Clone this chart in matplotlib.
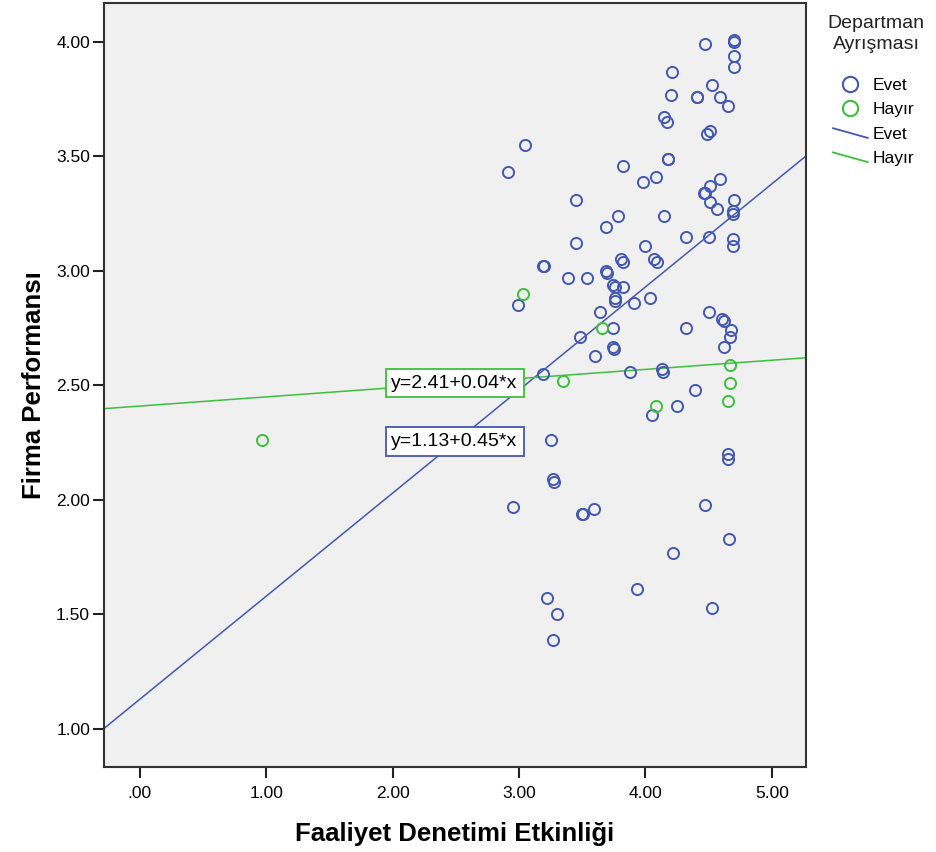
import matplotlib
matplotlib.use("Agg")
import matplotlib.pyplot as plt
from matplotlib.lines import Line2D
from matplotlib.legend_handler import HandlerBase
import numpy as np

plt.rcParams['font.family'] = ['Liberation Sans', 'DejaVu Sans']

# Departman Ayrışması = Evet
evet_x = [2.91, 3.05, 4.47, 4.70, 4.70, 4.70, 4.70, 4.21, 4.53, 4.59, 4.65, 4.41, 4.41,
          4.20, 4.15, 4.17, 4.51, 4.49, 3.82, 4.18, 4.18, 3.98, 4.08, 4.51, 4.59, 4.46,
          4.47, 4.51, 4.57, 4.70, 4.69, 4.69, 3.45, 4.15, 3.78, 3.69, 4.32, 4.50, 4.69,
          4.69, 4.00, 3.45, 4.07, 4.09, 3.81, 3.82, 3.19, 3.20, 3.69, 3.70, 3.54, 3.39,
          3.74, 3.76, 3.82, 3.76, 3.76, 3.91, 4.04, 2.99, 3.64, 4.50, 4.61, 4.62, 4.68,
          3.74, 4.32, 3.48, 4.67, 3.74, 3.75, 4.62, 3.60, 3.19, 3.88, 4.13, 4.14, 4.39,
          4.25, 4.05, 3.25, 4.65, 4.65, 3.27, 3.28, 2.95, 3.51, 3.50, 3.59, 4.47, 4.66,
          4.22, 3.93, 3.22, 3.30, 4.53, 3.27]
evet_y = [3.43, 3.55, 3.99, 4.00, 4.01, 3.94, 3.89, 3.87, 3.81, 3.76, 3.72, 3.76, 3.76,
          3.77, 3.67, 3.65, 3.61, 3.60, 3.46, 3.49, 3.49, 3.39, 3.41, 3.37, 3.40, 3.34,
          3.34, 3.30, 3.27, 3.31, 3.26, 3.25, 3.31, 3.24, 3.24, 3.19, 3.15, 3.15, 3.14,
          3.11, 3.11, 3.12, 3.05, 3.04, 3.05, 3.04, 3.02, 3.02, 3.00, 2.99, 2.97, 2.97,
          2.94, 2.93, 2.93, 2.88, 2.87, 2.86, 2.88, 2.85, 2.82, 2.82, 2.79, 2.78, 2.74,
          2.75, 2.75, 2.71, 2.71, 2.67, 2.66, 2.67, 2.63, 2.55, 2.56, 2.57, 2.56, 2.48,
          2.41, 2.37, 2.26, 2.20, 2.18, 2.09, 2.08, 1.97, 1.94, 1.94, 1.96, 1.98, 1.83,
          1.77, 1.61, 1.57, 1.50, 1.53, 1.39]

# Departman Ayrışması = Hayır
hayir_x = [0.97, 3.03, 3.66, 3.35, 4.08, 4.67, 4.67, 4.65]
hayir_y = [2.26, 2.90, 2.75, 2.52, 2.41, 2.59, 2.51, 2.43]

# fit lines: intercept, slope
evet_fit = (1.13, 0.45)
hayir_fit = (2.41, 0.04)

blue = '#4358b0'
green = '#3dbf3d'


class DiagHandler(HandlerBase):
    # SPSS draws the fit line legend keys as short slanted strokes
    def create_artists(self, legend, orig_handle, xdescent, ydescent, width, height, fontsize, trans):
        x0, x1 = -xdescent, -xdescent + width
        y0, y1 = -ydescent + height * 0.85, -ydescent + height * 0.05
        ln = Line2D([x0, x1], [y0, y1], color=orig_handle.get_color(), lw=orig_handle.get_linewidth())
        ln.set_transform(trans)
        return [ln]


fig = plt.figure(figsize=(9.36, 8.52), dpi=100)
ax = fig.add_axes([0.111, 0.0998, 0.750, 0.8967])
ax.set_facecolor('#f0f0f0')

xlim = (-0.285, 5.27)
ylim = (0.834, 4.17)
ax.set_xlim(*xlim)
ax.set_ylim(*ylim)

ax.plot(evet_x, evet_y, 'o', mfc='none', mec=blue, mew=1.4, ms=8, zorder=3)
ax.plot(hayir_x, hayir_y, 'o', mfc='none', mec=green, mew=1.4, ms=8, zorder=3)

xs = np.array(xlim)
ax.plot(xs, evet_fit[0] + evet_fit[1] * xs, color=blue, lw=1.1, zorder=2)
ax.plot(xs, hayir_fit[0] + hayir_fit[1] * xs, color=green, lw=1.1, zorder=2)

ax.text(2.49, 2.51, 'y=%.2f+%.2f*x' % hayir_fit, ha='center', va='center', fontsize=14,
        bbox=dict(boxstyle='square,pad=0.3', fc='white', ec=green, lw=1.3), zorder=4)
ax.text(2.49, 2.255, 'y=%.2f+%.2f*x' % evet_fit, ha='center', va='center', fontsize=14,
        bbox=dict(boxstyle='square,pad=0.3', fc='white', ec=blue, lw=1.3), zorder=4)

ax.set_xticks([0, 1, 2, 3, 4, 5])
ax.set_xticklabels(['.00', '1.00', '2.00', '3.00', '4.00', '5.00'])
ax.set_yticks([1.0, 1.5, 2.0, 2.5, 3.0, 3.5, 4.0])
ax.set_yticklabels(['1.00', '1.50', '2.00', '2.50', '3.00', '3.50', '4.00'])
ax.tick_params(axis='both', direction='out', length=8, width=1.5, labelsize=12.5, color='#222222')
ax.tick_params(axis='x', pad=6)
ax.tick_params(axis='y', pad=2)
for s in ax.spines.values():
    s.set_linewidth(1.5)
    s.set_color('#333333')

ax.set_xlabel('Faaliyet Denetimi Etkinliği', fontsize=18.5, fontweight='bold', labelpad=15)
ax.set_ylabel('Firma Performansı', fontsize=18.5, fontweight='bold', labelpad=7)

fig.text(876 / 936, 1 - 34 / 852, 'Departman\nAyrışması', ha='center', va='center',
         fontsize=14, linespacing=1.3, color='#222222')

fit_evet = Line2D([], [], color=blue, lw=1.3)
fit_hayir = Line2D([], [], color=green, lw=1.3)
handles = [
    Line2D([], [], marker='o', ls='none', mfc='none', mec=blue, mew=1.5, ms=11),
    Line2D([], [], marker='o', ls='none', mfc='none', mec=green, mew=1.5, ms=11),
    fit_evet,
    fit_hayir,
]
leg = fig.legend(handles, ['Evet', 'Hayır', 'Evet', 'Hayır'],
                 loc='upper left', bbox_to_anchor=(833 / 936, 1 - 78 / 852), frameon=False,
                 fontsize=12.5, handlelength=2.0, handletextpad=0.3, borderpad=0,
                 labelspacing=0.52, borderaxespad=0,
                 handler_map={fit_evet: DiagHandler(), fit_hayir: DiagHandler()})

fig.savefig('out.png', dpi=100)
